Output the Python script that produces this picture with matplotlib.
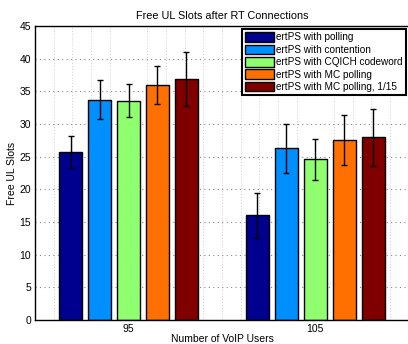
import numpy as np
import matplotlib
matplotlib.use("Agg")
import matplotlib.pyplot as plt
from matplotlib.ticker import MultipleLocator

users = ["95", "105"]
series = ["ertPS with polling", "ertPS with contention", "ertPS with CQICH codeword",
          "ertPS with MC polling", "ertPS with MC polling, 1/15"]
means = [
    [25.7, 16.0],
    [33.7, 26.3],
    [33.6, 24.6],
    [36.0, 27.6],
    [36.9, 28.0],
]
errs = [
    [2.5, 3.45],
    [3.0, 3.75],
    [2.5, 3.1],
    [2.9, 3.8],
    [4.1, 4.35],
]
colors = ["#00008f", "#008fff", "#8fff70", "#ff7000", "#800000"]

def main():
    plt.rcParams["font.family"] = ["Liberation Sans", "DejaVu Sans"]
    plt.rcParams["font.size"] = 7.5

    fig = plt.figure(figsize=(4.08, 3.44), dpi=100)
    ax = fig.add_axes([0.086, 0.07, 0.916, 0.854])

    x = np.arange(1, len(users) + 1)
    step = 0.155
    w = 0.125
    for i in range(len(series)):
        off = (i - 2) * step
        ax.bar(x + off, means[i], w, color=colors[i], edgecolor="black",
               linewidth=1.0, label=series[i], zorder=2)
        ax.errorbar(x + off, means[i], yerr=errs[i], fmt="none", ecolor="black",
                    elinewidth=1.0, capsize=2.5, capthick=1.0, zorder=3)

    ax.set_xlim(0.5, 2.5)
    ax.set_ylim(0, 45)
    ax.set_xticks(x)
    ax.set_xticklabels(users)
    ax.set_yticks(range(0, 46, 5))
    ax.xaxis.set_minor_locator(MultipleLocator(0.1))
    ax.set_axisbelow(True)
    ax.grid(axis="y", which="major", linestyle=(0, (1, 3)), color="#888888", linewidth=0.8)
    ax.grid(axis="x", which="minor", linestyle=(0, (1, 2)), color="#cccccc", linewidth=0.7)
    ax.tick_params(axis="both", which="both", direction="in", length=0, pad=3)
    for s in ax.spines.values():
        s.set_linewidth(1.0)

    ax.set_title("Free UL Slots after RT Connections", fontsize=7.8, pad=5)
    ax.set_xlabel("Number of VoIP Users", labelpad=0)
    ax.set_ylabel("Free UL Slots", labelpad=1.5)

    leg = ax.legend(loc="upper right", fontsize=7.2, frameon=True, fancybox=False,
                    borderaxespad=0.3, handlelength=2.9, handleheight=1.1,
                    handletextpad=0.2, labelspacing=0.22, borderpad=0.3)
    leg.get_frame().set_edgecolor("black")
    leg.get_frame().set_linewidth(1.5)
    leg.get_frame().set_alpha(1)

    fig.savefig("out.png", dpi=100)

if __name__ == "__main__":
    main()
